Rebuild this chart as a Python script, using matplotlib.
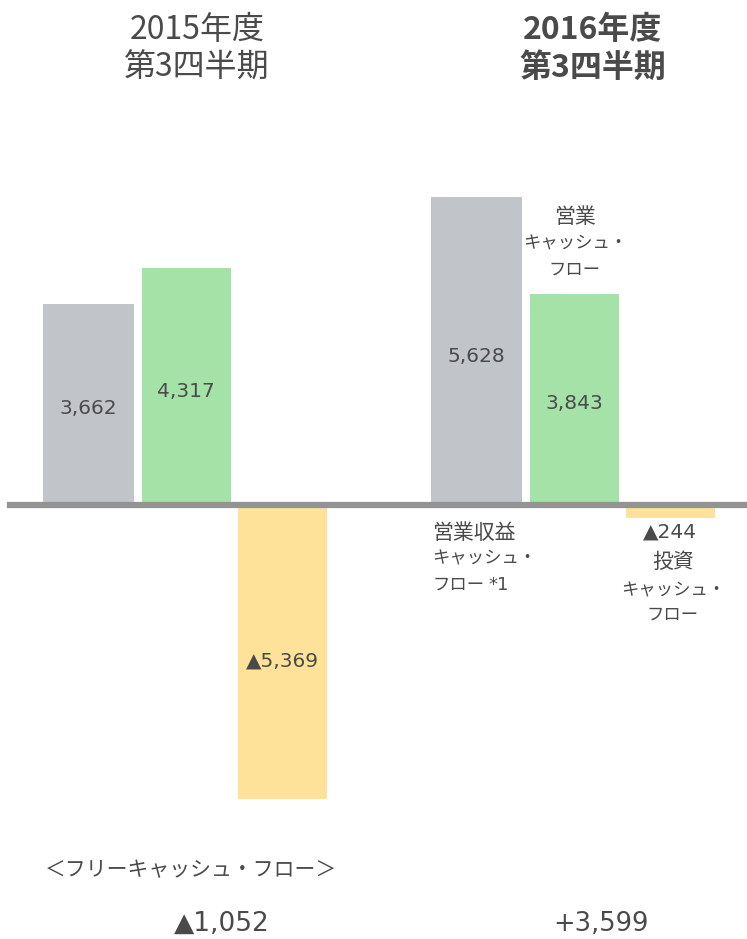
import matplotlib.pyplot as plt

plt.rcParams['font.family'] = ['Noto Sans CJK JP', 'DejaVu Sans']

# データ (億円)
period_year = ['2015年度', '2016年度']
period_q = ['第3四半期', '第3四半期']
operating_income_cf = [3662, 5628]
operating_cf = [4317, 3843]
investing_cf = [-5369, -244]
free_cf = ['▲1,052', '+3,599']
value_labels_income = ['3,662', '5,628']
value_labels_op = ['4,317', '3,843']
value_labels_inv = ['▲5,369', '▲244']

gray = '#C1C5C9'
green = '#A4E2A8'
yellow = '#FFE29A'
txt = '#4A4A4A'
num_font = ['DejaVu Sans', 'Noto Sans CJK JP']

fig = plt.figure(figsize=(7.47, 9.39), dpi=100)
ax = fig.add_axes([0, 0, 1, 1])
# 縦軸: 0 が上から 505px の位置にくるように
scale = 0.0548
base_px = 505
ax.set_xlim(0, 747)
ax.set_ylim(-(939 - base_px) / scale, base_px / scale)
ax.axis('off')


def py(p):
    # 上からのピクセル位置 -> データ座標
    return (base_px - p) / scale


group_x = [88, 476]
w = 90
gap = 98

for i in range(2):
    x0 = group_x[i]
    ax.bar(x0, operating_income_cf[i], width=w + 1, color=gray, zorder=2)
    ax.bar(x0 + gap, operating_cf[i], width=w - 1, color=green, zorder=2)
    ax.bar(x0 + 2 * gap - 2, investing_cf[i], width=w - 1, color=yellow, zorder=2)

ax.axhline(0, xmin=10 / 747, xmax=1, color='#939393', lw=4.5, zorder=3)

# 棒の中の数値
for i in range(2):
    x0 = group_x[i]
    ax.text(x0, operating_income_cf[i] * 0.48, value_labels_income[i],
            ha='center', va='center', fontsize=14.5, color=txt, family=num_font)
    ax.text(x0 + gap, operating_cf[i] * 0.48, value_labels_op[i],
            ha='center', va='center', fontsize=14.5, color=txt, family=num_font)
ax.text(group_x[0] + 2 * gap - 2, investing_cf[0] * 0.53, value_labels_inv[0],
        ha='center', va='center', fontsize=14.5, color=txt, family=num_font)
ax.text(group_x[1] + 2 * gap - 2, py(532), value_labels_inv[1],
        ha='center', va='center', fontsize=14.5, color=txt, family=num_font)

# 見出し
for x, wt, i in [(197, 'normal', 0), (593, 'bold', 1)]:
    ax.text(x, py(30), period_year[i], ha='center', va='center',
            fontsize=23, color=txt, fontweight=wt)
    ax.text(x, py(68), period_q[i], ha='center', va='center',
            fontsize=23, color=txt, fontweight=wt)


def label(x, ys, lines, ha):
    for y, s in zip(ys, lines):
        size = 12.5 if ('キ' in s or 'フ' in s) else 15
        ax.text(x, py(y), s, ha=ha, va='center', fontsize=size, color=txt)


# 系列名
label(575, [217, 243, 270], ['営業', 'キャッシュ・', 'フロー'], 'center')
label(432, [533, 558, 585], ['営業収益', 'キャッシュ・', 'フロー'], 'left')
ax.text(488, py(585), '*1', ha='left', va='center', fontsize=13, color=txt,
        family=num_font)
label(673, [562, 590, 615], ['投資', 'キャッシュ・', 'フロー'], 'center')

# フリーキャッシュ・フロー
ax.text(45, py(870), '＜フリーキャッシュ・フロー＞', ha='left', va='center',
        fontsize=15, color=txt)
ax.text(222, py(924), free_cf[0], ha='center', va='center',
        fontsize=19, color=txt, family=num_font)
ax.text(601, py(924), free_cf[1], ha='center', va='center',
        fontsize=18.5, color=txt, family=num_font)

fig.savefig('out.png', dpi=100)
